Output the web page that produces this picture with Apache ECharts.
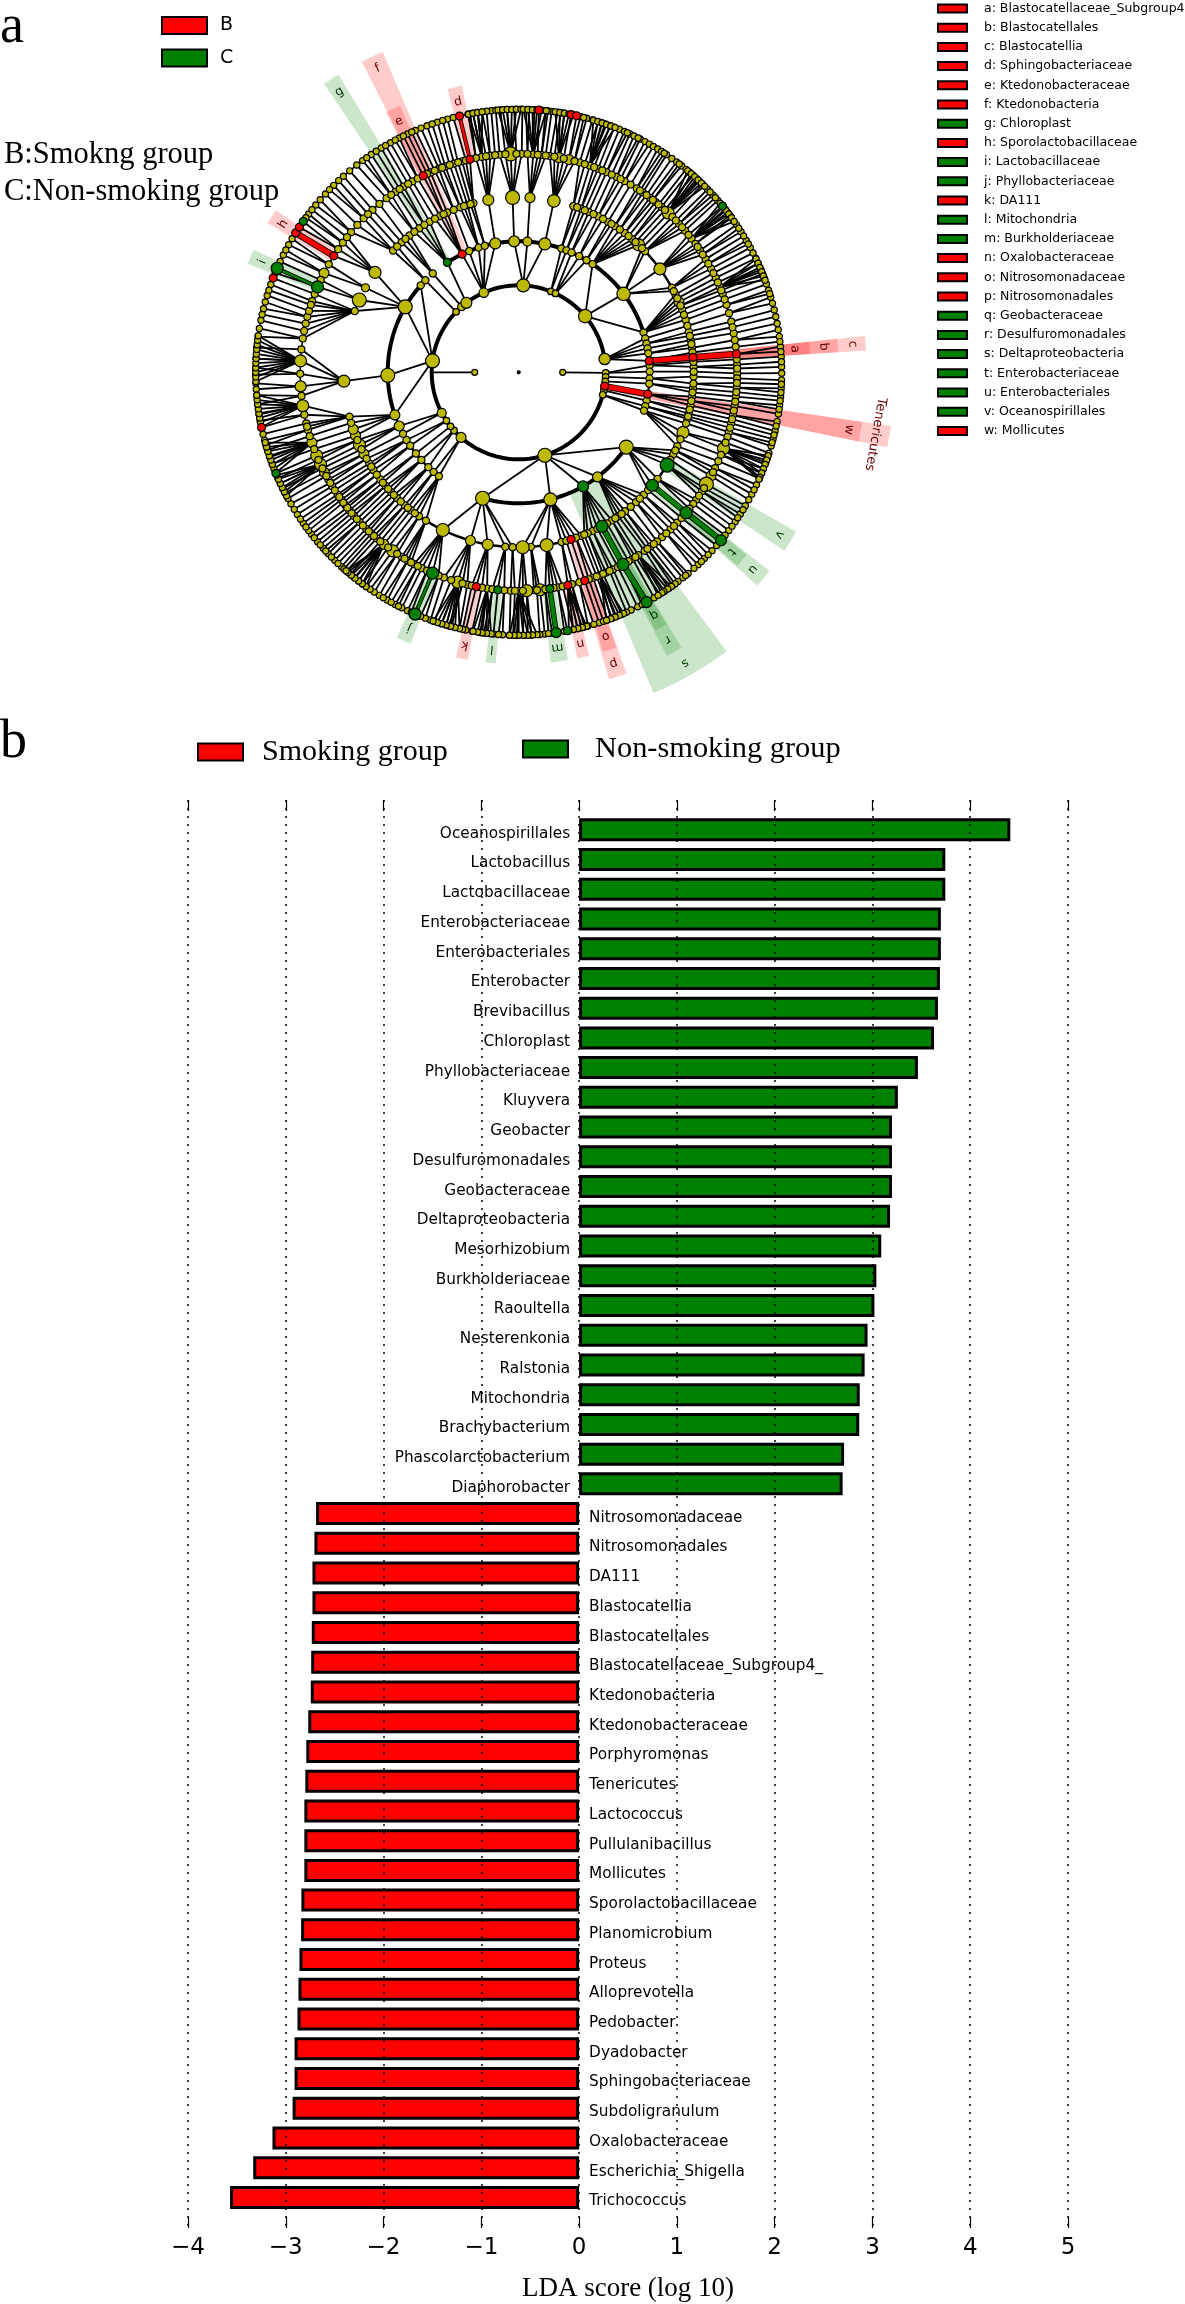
<!DOCTYPE html>
<html><head><meta charset="utf-8">
<style>html,body{margin:0;padding:0;background:#fff}#c{width:1185px;height:2304px}</style>
<script src="https://cdn.jsdelivr.net/npm/echarts@6/dist/echarts.min.js"></script></head>
<body><div id="c"></div>
<script>
// ---------- bar chart data ----------
const greenNames=['Oceanospirillales','Lactobacillus','Lactobacillaceae','Enterobacteriaceae','Enterobacteriales','Enterobacter','Brevibacillus','Chloroplast','Phyllobacteriaceae','Kluyvera','Geobacter','Desulfuromonadales','Geobacteraceae','Deltaproteobacteria','Mesorhizobium','Burkholderiaceae','Raoultella','Nesterenkonia','Ralstonia','Mitochondria','Brachybacterium','Phascolarctobacterium','Diaphorobacter'];
const greenValues=[4.41,3.745,3.745,3.70,3.70,3.69,3.67,3.63,3.465,3.26,3.20,3.20,3.20,3.18,3.09,3.04,3.02,2.95,2.92,2.87,2.865,2.71,2.695];
const redNames=['Nitrosomonadaceae','Nitrosomonadales','DA111','Blastocatellia','Blastocatellales','Blastocatellaceae_Subgroup4_','Ktedonobacteria','Ktedonobacteraceae','Porphyromonas','Tenericutes','Lactococcus','Pullulanibacillus','Mollicutes','Sporolactobacillaceae','Planomicrobium','Proteus','Alloprevotella','Pedobacter','Dyadobacter','Sphingobacteriaceae','Subdoligranulum','Oxalobacteraceae','Escherichia_Shigella','Trichococcus'];
const redValues=[-2.69,-2.707,-2.727,-2.727,-2.734,-2.74,-2.744,-2.77,-2.79,-2.80,-2.81,-2.81,-2.81,-2.84,-2.843,-2.86,-2.87,-2.88,-2.91,-2.91,-2.93,-3.136,-3.333,-3.57];
// ---------- cladogram legend ----------
const cladeKeys=[['a: Blastocatellaceae_Subgroup4','r'],['b: Blastocatellales','r'],['c: Blastocatellia','r'],['d: Sphingobacteriaceae','r'],['e: Ktedonobacteraceae','r'],['f: Ktedonobacteria','r'],['g: Chloroplast','g'],['h: Sporolactobacillaceae','r'],['i: Lactobacillaceae','g'],['j: Phyllobacteriaceae','g'],['k: DA111','r'],['l: Mitochondria','g'],['m: Burkholderiaceae','g'],['n: Oxalobacteraceae','r'],['o: Nitrosomonadaceae','r'],['p: Nitrosomonadales','r'],['q: Geobacteraceae','g'],['r: Desulfuromonadales','g'],['s: Deltaproteobacteria','g'],['t: Enterobacteriaceae','g'],['u: Enterobacteriales','g'],['v: Oceanospirillales','g'],['w: Mollicutes','r']];
// ---------- cladogram: ring radii, node clock angles ----------
const ringRadius=[0,44,87,131,175,218.5,263];
const ring1=[270,90];
const ring1Links=[[270,270],[90,90.4]];
const ring2=[3,21.7,25,49.8,81.2,90.4,93,96,99.2,102,105,162.5,221.5,228,231.6,236.2,242.2,277.6,314,319,323,336.3];
const ring3Groups=[[3,358,3.8,11.5],[21.7,19,21.4],[25,23.8,27.5,31.2],[49.8,34.3,53.2,72.3],[81.2,75,77.3,79.5,81.7,85],[90.4,87,89.7],[93,92.7],[96,95],[99.2,99.6],[102,102.5],[105,105,107],[162.5,124.8,143,150.6,166,196],[221.5,220.5,217.5],[228,228,223.6],[231.6,231.7],[236.2,238.9,235.9],[242.2,245.8,242],[277.6,251,268.7,300,311.6],[314,314.6],[319,319],[323,327],[336.3,334.4,337.8,342.2,345,349.7]];
const ring4=[358,3.7,11.6,18.2,20.9,23.6,27,30.7,33.3,37.3,40.5,43.3,46.2,53.8,61.1,63.6,66.3,69,72.6,76.6,79.4,82,85.1,88.2,91.4,95.3,98,100.9,103.7,105.4,110.1,115,118,122,130.2,134.4,137.9,142.6,145.3,147.8,151.6,155,156.8,159.1,162.6,165.8,170.8,176,178.7,182,184.4,190.2,196,205.7,214.7,218,220.6,224.1,226.8,229.5,232.2,236.1,238.6,242.2,245.5,248.8,251,255.3,267.1,290.5,294.4,298.9,304.8,314.1,318,321.4,325.4,329.4,333.3,335.9,340.5,343,345,350];
const ring4More=[19.5,22.2,25.3,28.8,32,35.3,38.9,41.9,44.8,62.4,65,67.6,70.8,74.6,78,80.7,83.5,86.6,89.8,93.7,96.6,99.4,102.3,104.6,107,112.5,116.5,120,127.5,132.3,136.2,140.2,144,146.5,149.7,153.3,158,160.9,164.2,212,216.4,219.3,222.4,225.5,228.2,230.9,234.2,237.4,240.4,243.9,247.2,253.2,316,319.7,323.4,327.4,331.4,334.6,338.2,341.8,344];
const ring5=[0.8,3.8,6,8.2,10.6,13.3,16.2,19,21.3,23.7,26.6,29,32.7,34.6,36.9,38.8,40.8,43.2,44.7,47.2,49.6,52.3,54,56.1,58.8,61.7,64.4,67,69,72,76.6,79.7,83.3,85.2,88,90.3,91.6,94,96.4,98.9,101.3,103.5,105.9,107.2,110.4,114,116,118.3,120.8,123,125.7,130,133.5,136,139,140.7,142.9,144.8,146.8,148.6,151.5,154.4,156.4,158.2,160.1,162.4,165.9,167,169.7,171.8,174.4,176,177.9,180,182.1,185.5,188.3,191.2,193.6,196.2,200,203.2,206.3,208.6,210.5,212.4,215.2,218.1,220.5,222.4,224.2,226.7,228.9,230.8,232.5,234.3,236,238.6,240.6,242.7,245.1,247.6,251.2,254.7,256.5,261.2,266.3,273,278.9,282.9,284.7,286.3,289,291,293,297,302.2,306.4,309.9,314.8,318,322.8,325.7,328.2,330.9,334.1,336.2,338.6,340.4,342.8,345,347.1,350.3,352.5,355,357.9];
const ring5More=[2.3,5,7.1,9.4,11.9,14.8,17.6,20.2,22.5,25.2,27.8,30.8,33.7,35.8,37.9,39.8,42,46,48.4,51,55,57.4,60.2,63,65.7,68,70.5,74.3,78.1,81.5,86.6,89,92.8,95.2,97.7,100.1,102.4,104.7,108.8,112.2,117.2,122,124.4,127,128.6,131.8,134.7,137.5,141.8,143.9,147.7,149.8,153,155.4,157.3,159.1,161.3,163.9,168.4,170.8,173,175.2,178.9,181,183.8,186.9,189.7,192.4,194.9,198,201.5,204.8,207.5,209.5,211.5,213.8,216.7,219.3,221.5,223.3,225.5,227.8,229.9,231.7,233.4,235.2,237.3,239.6,241.7,243.9,246.4,249.4,253,255.6,258.8,263.8,269.6,276,280.9,288,295,299.6,304.3,308.2,312.4,316.4,320.4,324.3,327,329.6,332.5,335.2,337.4,339.5,341.6,343.9,346,348.7,351.4,353.8,356.5,359.4];
const ring6=[359,0.8,2.3,4.4,5.9,7.2,8.5,10,11.5,12.7,15,16.3,17.6,19.2,20.3,21.3,22.5,23.7,25,26,27.5,28.7,29.8,30.8,31.9,32.9,34.2,35.6,36.9,38.3,39.5,41.5,42.6,44.3,45.9,47.6,49.2,50.8,52.6,54,55.9,57.7,59.9,61.7,64.3,67,69.1,71.8,73.4,76.3,79.3,82.2,84.4,86.6,88.8,91.7,93.5,95.3,97.2,99.1,100.8,102.9,104.7,106.3,107.9,110,111.5,113.8,115.3,117.6,120.5,122.6,124.6,127,129.7,132.7,135.1,137,138.2,139.9,141.4,142.7,144.2,146.3,147.6,150.9,153.1,154.7,157,158.2,160.2,162.2,164.7,166.3,168,169.3,171.8,172.7,174.3,175.4,177.2,179,180.4,182,183.5,185.5,186.8,188.4,190.2,191.6,193,194.8,196,197.1,198.7,199.6,203.2,205,206.4,208,210,212,213.3,215.4,217.5,218.7,220.9,222.4,224.4,226.4,228,229.9,232,233,235,237.3,240,242.7,245,247.4,249.6,252.8,255,257.9,260.8,265,267.6,269.5,273,277.8,281.4,284,287,289.5,291,293.3,296.5,299,302,303.5,305,307,309.5,312.7,315.3,318.2,322,323.6,325.9,328.5,330.8,333,335,336.9,339.6,342,344.3,347,348.9,350,352,354,356];
const ring6More=[1.6,3.4,6.4,9.2,13.6,14.3,18.4,24.4,27,33.6,37.6,40.4,43.4,46.7,48.4,51.7,53.3,56.8,58.8,60.8,63,65.6,68,70.4,72.6,74.8,77.8,80.7,83.3,85.5,87.7,90.2,92.6,94.4,96.2,98.1,101.8,103.8,105.5,109,112.6,116.5,119,121.5,123.6,125.8,128.3,131.2,133.9,136,140.6,143.5,145.2,149,152,155.8,159.2,161.2,163.4,165.5,167.1,170,173.5,178,181.2,184.4,187.6,192.3,195.4,200.8,201.9,204.1,207.2,209,211,214.4,216.4,219.8,221.6,223.4,225.4,227.2,229,231,234,236.1,238.6,241.3,243.8,246.2,251.2,253.9,256.4,259.4,263,266.3,271,275.4,279.6,282.7,285.5,288.2,292.2,294.9,297.7,300.5,306,308.2,311,314,316.8,320,324.7,327.2,329.6,332,334,336,338.2,340.8,343.2,345.6,349.4,351,353,355,357.4];
// leaves drawn as dense fans from one family node
const ring6Fans=[[273,268,269,270,271,272,273,274,275,276,277,278],[261.2,258,259,260,261,262,263,264,265],[251.2,247.5,248.5,249.5,250.5,251.5,252.5,253.5,254.5],[245.1,242,243,244,245,246,247],[218.1,215.5,216.5,217.5,218.5,219.5,220.5,221],[357.9,355.5,356.5,357.5,358.5,359.5,0.5],[350.3,349,350,351,352],[3.8,1,2,3,4,5,6],[10.6,8,9,10,11,12],[19,16.5,17.5,18.5,19.5,20.5,21.5],[43.2,40,41,42,43,44,45],[52.3,50,51,52,53,54,55],[67,64.5,65.5,66.5,67.5,68.5,69.5],[110.4,108.5,109.5,110.5,111.5,112.5,113.5,114],[146.8,144.5,145.5,146.5,147,148],[158.2,156.5,157.5,158.5,159.5,160.5],[167,165,166,167,168,169],[180,176,177,178,179,180,181,182],[188.3,186,187,188,189,190],[196.2,193,194,195,196,197,198,199]];
// node radii that differ from the ring default: [ring, angle, radius]
const bigNodes=[[2,81.2,5.7],[2,49.8,6.7],[2,3,6.5],[2,336.3,4.7],[2,323,5.5],[2,319,4],[2,242.2,4.5],[2,221.5,5],[2,162.5,7],[2,277.6,7],[3,53.2,6.7],[3,358,5.5],[3,3.8,4.5],[3,11.5,6],[3,124.8,7],[3,143,5],[3,150.6,5.5],[3,166,6.5],[3,196,7],[3,300,7],[3,268.7,7],[3,251,5],[3,245.8,5],[3,349.7,5.5],[4,358,7],[4,3.7,5],[4,11.6,6.3],[4,43.3,6],[4,53.8,6],[4,66.3,5],[4,122,7],[4,110.1,6],[4,130.2,6],[4,151.6,6],[4,170.8,6.5],[4,178.7,6.5],[4,190.2,5.5],[4,196,5],[4,205.7,6.5],[4,245.5,6],[4,242.2,5],[4,248.8,5],[4,251,5],[4,267.1,6],[4,304.8,6],[4,294.4,7],[4,298.9,4],[4,350,5.5],[5,110.4,6],[5,120.8,7],[5,118.3,5],[5,130,6],[5,151.5,6],[5,174.4,6],[5,177.9,6],[5,196.2,6],[5,203.2,6],[5,215.2,6],[5,218.1,5],[5,242.7,5],[5,245.1,6],[5,247.6,6],[5,251.2,5],[5,261.2,6],[5,266.3,5.5],[5,273,6],[5,293,6],[5,297,5],[5,43.2,6],[5,357.9,7],[5,10.6,5],[5,13.3,5],[6,203.2,6],[6,150.9,5.5],[6,129.7,5.5],[6,293.3,6],[6,171.8,5]];
const redNodes=[[2,99.2],[3,85],[3,99.6],[3,334.4],[4,85.1],[4,162.6],[5,85.2],[5,162.4],[5,167],[5,191.2],[5,302.2],[5,334.1],[5,347.1],[6,4.4],[6,11.5],[6,12.7],[6,257.9],[6,291],[6,302],[6,303.5],[6,347]];
const greenNodes=[[3,150.6],[3,327],[4,122],[4,130.2],[4,151.6],[5,130],[5,151.5],[5,171.8],[5,185.5],[5,203.2],[5,293],[6,50.8],[6,129.7],[6,150.9],[6,169.3],[6,171.8],[6,203.2],[6,247.4],[6,293.3],[6,305]];
// arcs on a ring: [ring, from, to, width]
const ringArcs=[[2,105,441,4],[3,72,107,2],[3,124.8,196,4],[3,217.5,251,2.5],[3,251,314.6,4],[3,327,432.3,4],[4,18,72.6,2.5],[4,110,215,2.5],[4,215,256,2],[4,314,345,2],[5,0,360,1.5],[6,0,360,1.5]];
// highlighted chains: [fromRing, fromAngle, toRing, toAngle, colour, width]
const chains=[[2,99.2,3,99.6,'r',5],[3,85,4,85.1,'r',5],[4,85.1,5,85.2,'r',5],[5,347.1,6,347,'r',2.5],[5,302.2,6,302,'r',5],[5,293,6,293.3,'g',2.5],[5,203.2,6,203.2,'g',2.5],[5,171.8,6,171.8,'g',4],[4,151.6,5,151.5,'g',4.5],[5,151.5,6,150.9,'g',4.5],[4,130.2,5,130,'g',4.5],[5,130,6,129.7,'g',4.5]];
// clade wedges: [label, innerR, outerR, from, to, colour, labelR]
const wedges=[['a',218,292,84,86.4,'r',277],['b',175,320,84,86.4,'r',306],['c',131,348,84,86.4,'r',335],['d',218,292,345.9,348.8,'r',277],['e',218,292,333,336,'r',278],['f',131,348,333.2,337,'r',335],['g',131,348,326,328.8,'g',333],['h',218,292,300.7,303.7,'r',278],['i',218,292,291.8,294.8,'g',279],['j',218,292,201.7,204.7,'g',278],['k',218,292,190,192.4,'r',278],['l',218,292,184.5,186.5,'g',278],['m',218,292,170.3,173.7,'g',278],['n',218,292,166,168.4,'r',278],['o',218,292,160.4,163.2,'r',278],['p',175,320,160.3,163.6,'r',306],['q',218,292,149.7,152,'g',278],['r',175,320,149.4,152.4,'g',306],['s',131,348,143.3,157.2,'g',335],['t',218,292,128.7,131.5,'g',278],['u',175,320,128.4,131.8,'g',306],['v',175,320,119.9,123.9,'g',307],['w',131,347,98.2,101.5,'r',335],['Tenericutes',87,376,98.2,101.5,'r',362]];

const RED='#ff0000',GREEN='#008000',YEL='#bdb800';
const palette={r:RED,g:GREEN};
const wedgeFill={r:'rgba(255,0,0,0.2)',g:'rgba(0,128,0,0.2)'};
const labelFill={r:'#6b0000',g:'#003300'};

// ---------- build the tree ----------
const defaultR=[1.5,3,3.3,3.6,3.6,3.5,3.1];
const rings={1:ring1.map(a=>({a})),2:ring2.map(a=>({a})),3:[],4:ring4.concat(ring4More).map(a=>({a})),5:ring5.concat(ring5More).map(a=>({a})),6:ring6.concat(ring6More).map(a=>({a}))};
const edges=[];
ring3Groups.forEach(g=>{g.slice(1).forEach(a=>{rings[3].push({a});edges.push([2,g[0],3,a]);});});
const angDist=(x,y)=>{const d=Math.abs(x-y)%360;return d>180?360-d:d;};
const nearest=(list,a)=>list.reduce((b,n)=>angDist(n.a,a)<angDist(b.a,a)?n:b,list[0]);
[4,5,6].forEach(k=>rings[k].forEach(n=>edges.push([k-1,nearest(rings[k-1],n.a).a,k,n.a])));
ring6Fans.forEach(f=>f.slice(1).forEach(a=>{rings[6].push({a});edges.push([5,f[0],6,a]);}));
ring1Links.forEach(l=>edges.push([1,l[0],2,l[1]]));
bigNodes.forEach(b=>{nearest(rings[b[0]],b[1]).r=b[2];});
redNodes.forEach(b=>{nearest(rings[b[0]],b[1]).c=RED;});
greenNodes.forEach(b=>{nearest(rings[b[0]],b[1]).c=GREEN;});
const nodes=[{value:[0,0],symbolSize:3,itemStyle:{color:'#000'}}];
[6,5,4,3,2,1].forEach(k=>rings[k].filter(n=>!n.c).forEach(n=>nodes.push({value:[ringRadius[k],n.a],symbolSize:2*(n.r||defaultR[k]),itemStyle:{color:YEL}})));
[6,5,4,3,2].forEach(k=>rings[k].filter(n=>n.c).forEach(n=>nodes.push({value:[ringRadius[k],n.a],symbolSize:2*(n.r||Math.max(defaultR[k],4)),itemStyle:{color:n.c}})));

const polarBase={coordinateSystem:'polar',polarIndex:0,silent:true,animation:false};
function customPolar(name,z,data,render){return Object.assign({},polarBase,{type:'custom',name,z,data:data.map(d=>[d.r,d.a]),encode:{radius:0,angle:1},renderItem:render});}

const wedgeSeries=customPolar('wedges',1,wedges.map(w=>({r:w[2],a:w[3]})),(p,api)=>{
  const w=wedges[p.dataIndex],pts=[];
  for(let i=0;i<=6;i++)pts.push(api.coord([w[2],w[3]+(w[4]-w[3])*i/6]).slice(0,2));
  for(let i=6;i>=0;i--)pts.push(api.coord([w[1],w[3]+(w[4]-w[3])*i/6]).slice(0,2));
  return {type:'polygon',shape:{points:pts},style:{fill:wedgeFill[w[5]]}};
});
const edgeSeries=customPolar('edges',2,edges.map(e=>({r:ringRadius[e[2]],a:e[3]})),(p,api)=>{
  const e=edges[p.dataIndex],A=api.coord([ringRadius[e[0]],e[1]]),B=api.coord([ringRadius[e[2]],e[3]]);
  return {type:'line',shape:{x1:A[0],y1:A[1],x2:B[0],y2:B[1]},style:{stroke:'#000',lineWidth:1.8}};
});
const arcSeries=customPolar('arcs',2,ringArcs.map(r=>({r:ringRadius[r[0]],a:r[1]%360})),(p,api)=>{
  const r=ringArcs[p.dataIndex],pts=[];
  for(let a=r[1];a<r[2];a+=2)pts.push(api.coord([ringRadius[r[0]],a]).slice(0,2));
  pts.push(api.coord([ringRadius[r[0]],r[2]]).slice(0,2));
  return {type:'polyline',shape:{points:pts},style:{stroke:'#000',lineWidth:r[3],fill:null}};
});
const chainSeries=customPolar('chains',3,chains.map(c=>({r:ringRadius[c[2]],a:c[3]})),(p,api)=>{
  const c=chains[p.dataIndex],A=api.coord([ringRadius[c[0]],c[1]]),B=api.coord([ringRadius[c[2]],c[3]]);
  const sh={x1:A[0],y1:A[1],x2:B[0],y2:B[1]};
  return {type:'group',children:[{type:'line',shape:sh,style:{stroke:'#000',lineWidth:c[5]+1.6}},{type:'line',shape:sh,style:{stroke:palette[c[4]],lineWidth:c[5]}}]};
});
const labelSeries=customPolar('labels',5,wedges.map(w=>({r:w[6],a:(w[3]+w[4])/2})),(p,api)=>{
  const w=wedges[p.dataIndex],a=(w[3]+w[4])/2,P=api.coord([w[6],a]);
  return {type:'text',x:P[0],y:P[1],rotation:-a*Math.PI/180,style:{text:w[0],fill:labelFill[w[5]],font:(w[0].length>1?'13px':'12.5px')+' "DejaVu Sans"',align:'center',verticalAlign:'middle'}};
});
const nodeSeries=Object.assign({},polarBase,{type:'scatter',name:'nodes',z:4,data:nodes,symbol:'circle',itemStyle:{borderColor:'#000',borderWidth:1.2,opacity:1},encode:{radius:0,angle:1}});

const dummy=(name,c)=>({type:'scatter',name,xAxisIndex:1,yAxisIndex:1,data:[],itemStyle:{color:c,opacity:1}});
const serif='"Liberation Serif"';
const title=(text,left,top,size)=>({text,left,top,padding:0,textStyle:{fontFamily:serif,fontSize:size,fontWeight:'normal',color:'#000'}});
const legendTxt={fontFamily:'"DejaVu Sans"',color:'#000'};
const boxStyle={borderColor:'#000',borderWidth:2,opacity:1};

const categories=greenNames.concat(redNames);
const pad=a=>a.concat(new Array(categories.length-a.length).fill(null));
const option={
  animation:false,backgroundColor:'#fff',
  title:[title('a',0,1,54),title('b',0,716,54),title('B:Smokng group',4,139,30.5),title('C:Non-smoking group',4,176,30.5)],
  legend:[
    {left:161,top:16,padding:0,orient:'vertical',itemWidth:45,itemHeight:17,itemGap:13.5,icon:'rect',itemStyle:boxStyle,selectedMode:false,data:['B','C'],textStyle:Object.assign({fontSize:19,padding:[0,0,0,8]},legendTxt)},
    {left:937,top:2,padding:0,orient:'vertical',itemWidth:29,itemHeight:8,itemGap:6.2,icon:'rect',itemStyle:boxStyle,selectedMode:false,data:cladeKeys.map(k=>k[0]),textStyle:Object.assign({fontSize:12.5,padding:[0,0,0,12]},legendTxt)},
    {left:197,top:737,padding:0,itemWidth:45,itemHeight:17,icon:'rect',itemStyle:boxStyle,selectedMode:false,data:['Smoking group'],textStyle:{fontFamily:serif,fontSize:30,color:'#000',padding:[0,0,0,14]}},
    {left:522,top:734,padding:0,itemWidth:45,itemHeight:17,icon:'rect',itemStyle:boxStyle,selectedMode:false,data:['Non-smoking group'],textStyle:{fontFamily:serif,fontSize:30.4,color:'#000',padding:[0,0,0,22]}}
  ],
  polar:{center:[518.7,372.3],radius:400},
  radiusAxis:{show:false,min:0,max:400,polarIndex:0},
  angleAxis:{show:false,type:'value',min:0,max:360,startAngle:90,clockwise:true,polarIndex:0},
  grid:[{left:188,width:880,top:814.9,height:1397.4,outerBoundsMode:'none'},{left:188,width:880,top:800,height:1428,outerBoundsMode:'none'}],
  xAxis:[
    {gridIndex:0,type:'value',min:-4,max:5,interval:1,show:false},
    {gridIndex:1,type:'value',min:-4,max:5,interval:1,z:6,position:'bottom',
      axisLine:{show:false,onZero:false},axisTick:{show:true,inside:true,length:11,lineStyle:{color:'#000',width:1.2}},
      splitLine:{show:true,lineStyle:{color:'#000',type:[2,6],width:1.5}},
      axisLabel:{color:'#000',fontSize:23,fontFamily:'"DejaVu Sans"',margin:9,formatter:v=>String(v).replace('-','\u2212')},
      name:'LDA score (log 10)',nameLocation:'middle',nameGap:47,nameMoveOverlap:false,nameTextStyle:{fontFamily:serif,fontSize:27,color:'#000'}},
    {gridIndex:1,type:'value',min:-4,max:5,interval:1,z:6,position:'top',axisLine:{show:false,onZero:false},
      axisTick:{show:true,inside:true,length:11,lineStyle:{color:'#000',width:1.2}},axisLabel:{show:false},splitLine:{show:false}}
  ],
  yAxis:[
    {gridIndex:0,type:'category',inverse:true,data:categories,show:false},
    {gridIndex:1,type:'value',min:0,max:1,show:false}
  ],
  series:[
    wedgeSeries,edgeSeries,arcSeries,chainSeries,nodeSeries,labelSeries,
    {type:'bar',name:'Non-smoking group',xAxisIndex:0,yAxisIndex:0,z:3,barWidth:23,barGap:'-100%',data:pad(greenValues),itemStyle:{color:GREEN,borderColor:'#000',borderWidth:3},
      label:{show:true,position:'left',distance:9,offset:[0,4],formatter:'{b}',color:'#000',fontFamily:'"DejaVu Sans"',fontSize:15.3}},
    {type:'bar',name:'Smoking group',xAxisIndex:0,yAxisIndex:0,z:3,barWidth:23,barGap:'-100%',data:new Array(greenValues.length).fill(null).concat(redValues),itemStyle:{color:RED,borderColor:'#000',borderWidth:3},
      label:{show:true,position:'right',distance:10,offset:[0,4],formatter:'{b}',color:'#000',fontFamily:'"DejaVu Sans"',fontSize:15.3}},
    dummy('B',RED),dummy('C',GREEN),
    ...cladeKeys.map(k=>dummy(k[0],palette[k[1]]))
  ]
};
const chart=echarts.init(document.getElementById('c'),null,{renderer:'canvas',width:1185,height:2304});
chart.setOption(option);
</script></body></html>
